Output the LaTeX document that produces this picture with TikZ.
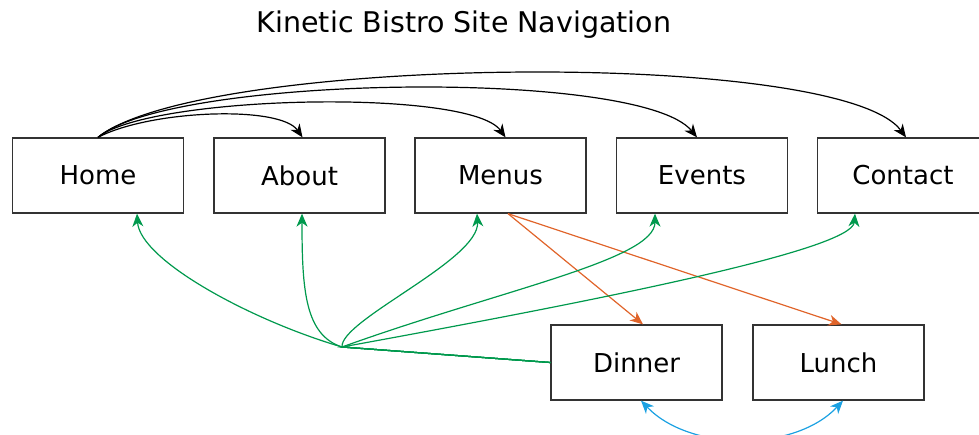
\documentclass[tikz,border=0pt]{standalone}
\usepackage{fontspec}
\setmainfont{DejaVu Sans}
\usetikzlibrary{arrows.meta,calc}
\definecolor{grn}{HTML}{00994D}
\definecolor{org}{HTML}{E0642A}
\definecolor{blu}{HTML}{1BA1E2}
\definecolor{bord}{HTML}{333333}
\tikzset{
  page/.style={draw=bord,line width=1.3pt,minimum width=171pt,minimum height=75pt,inner sep=0pt,font=\fontsize{26}{30}\selectfont},
  tiphead/.style={Stealth[length=13pt,width=11pt,inset=4pt]},
  tip/.style={-{Stealth[length=13pt,width=11pt,inset=4pt]}},
  navlink/.style={tip,line width=1.2pt,black},
  sublink/.style={tip,line width=1.2pt,org},
  backlink/.style={tip,line width=1.2pt,grn},
  peerlink/.style={{Stealth[length=13pt,width=11pt,inset=4pt]}-{Stealth[length=13pt,width=11pt,inset=4pt]},line width=1.2pt,blu},
}
\begin{document}
\begin{tikzpicture}[x=1pt,y=-1pt]
\useasboundingbox (0,0) rectangle (979,434);
\node (title) at (464,25) {\fontsize{28.5}{32}\selectfont Kinetic Bistro Site Navigation};
\node[page] (home) at (98,175.5) {Home};
\node[page] (about) at (299.5,175.5) {About};
\node[page] (menus) at (500.5,175.5) {Menus};
\node[page] (events) at (702,175.5) {Events};
\node[page] (contact) at (903,175.5) {Contact};
\node[page] (dinner) at (636.5,362.5) {Dinner};
\node[page] (lunch) at (838.5,362.5) {Lunch};
\coordinate (wp) at (342,347);
% navigation from home
\draw[navlink] (home.north) .. controls (150,110) and (280,105) .. ([xshift=3pt]about.north);
\draw[navlink] (home.north) .. controls (150,95) and (470,88) .. ([xshift=5pt]menus.north);
\draw[navlink] (home.north) .. controls (170,75) and (640,68) .. ([xshift=-5pt]events.north);
\draw[navlink] (home.north) .. controls (200,55) and (840,48) .. ([xshift=3pt]contact.north);
% menus to sub pages
\draw[sublink] ([xshift=7.5pt]menus.south) -- ([xshift=6.5pt]dinner.north);
\draw[sublink] ([xshift=7.5pt]menus.south) -- ([xshift=3pt]lunch.north);
% back links from dinner
\draw[backlink] (dinner.west) -- (wp) .. controls (250,320) and (140,260) .. ([xshift=39pt]home.south);
\draw[backlink] (dinner.west) -- (wp) .. controls (305,335) and (302,290) .. ([xshift=2.5pt]about.south);
\draw[backlink] (dinner.west) -- (wp) .. controls (340,320) and (480,260) .. ([xshift=-23.5pt]menus.south);
\draw[backlink] (dinner.west) -- (wp) .. controls (500,290) and (655,260) .. ([xshift=-47pt]events.south);
\draw[backlink] (dinner.west) -- (wp) .. controls (600,300) and (852,250) .. ([xshift=-48pt]contact.south);
% dinner <-> lunch
\draw[peerlink] ([xshift=4.5pt]dinner.south) .. controls (690,452) and (795,452) .. ([xshift=4.5pt]lunch.south);
\end{tikzpicture}
\end{document}
